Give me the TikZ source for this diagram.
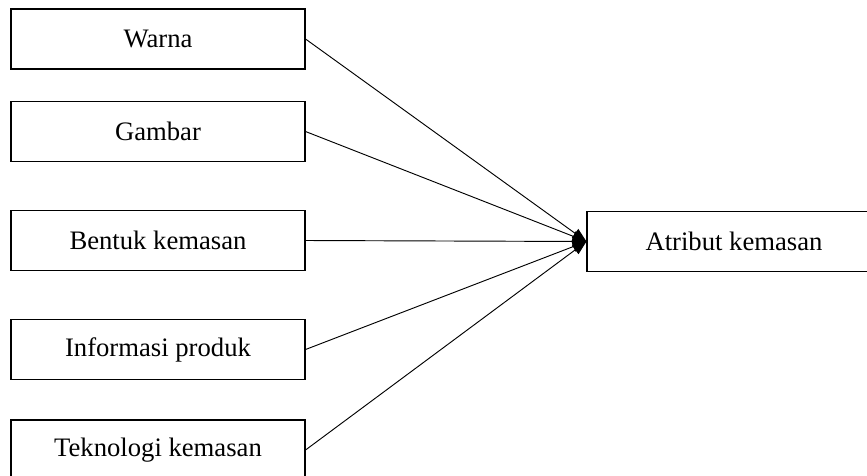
\documentclass[tikz,border=0pt]{standalone}
\usepackage{fontspec}
\setmainfont{Liberation Serif}
\usetikzlibrary{arrows.meta}

\begin{document}
\begin{tikzpicture}[x=0.75pt, y=-0.75pt, font=\fontsize{20}{24}\selectfont,
  kotak/.style={draw, line width=0.8pt, minimum width=220.5pt, minimum height=45pt, inner sep=0pt},
  panah/.style={-{Triangle[length=10.5pt, width=8pt]}, line width=0.7pt}]
  \useasboundingbox (0,0) rectangle (867,475);
  % faktor-faktor
  \node[kotak] (warna) at (158,39) {Warna};
  \node[kotak] (gambar) at (158,131.5) {Gambar};
  \node[kotak] (bentuk) at (158,240.5) {Bentuk kemasan};
  \node[kotak] (info) at (158,349.5) {Informasi produk};
  \node[kotak] (tekno) at (158,450) {Teknologi kemasan};
  % hasil
  \node[kotak] (atribut) at (734,241.5) {Atribut kemasan};
  \foreach \n in {warna, gambar, bentuk, info, tekno}
    \draw[panah] (\n.east) -- (atribut.west);
\end{tikzpicture}
\end{document}
